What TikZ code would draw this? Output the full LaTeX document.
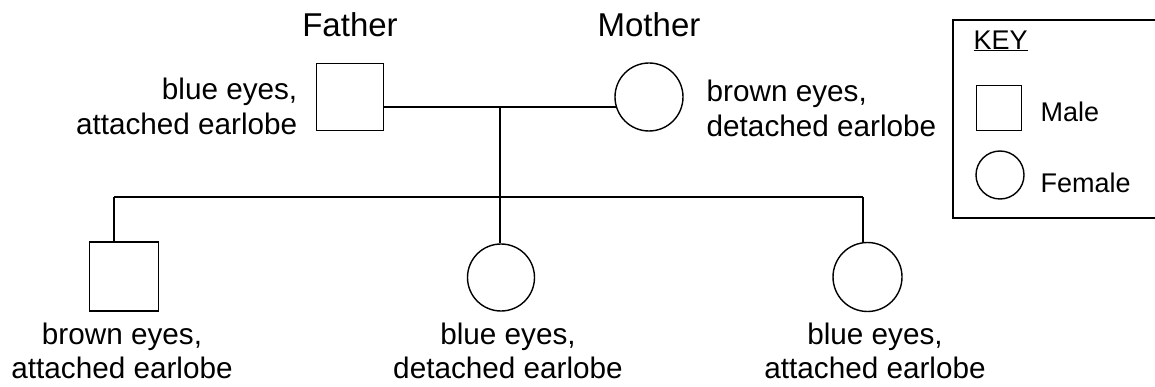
\documentclass[tikz,border=0pt]{standalone}
\usepackage{fontspec}
\setmainfont{Liberation Sans}
\begin{document}
\begin{tikzpicture}[x=1pt,y=-1pt,
  line width=1.4pt,
  male/.style={draw,rectangle,inner sep=0pt,minimum width=#1,minimum height=#1},
  female/.style={draw,circle,inner sep=0pt,minimum size=#1},
  lbl/.style={inner sep=0pt,font=\fontsize{29.7}{35}\selectfont},
  clbl/.style={inner sep=0pt,align=center,font=\fontsize{29.7}{34}\selectfont},
  role/.style={inner sep=0pt,font=\fontsize{33}{38}\selectfont},
  keytxt/.style={inner sep=0pt,anchor=west,font=\fontsize{27}{32}\selectfont}]
\useasboundingbox (0,0) rectangle (1155,387);
% parents
\node[male=67] (F) at (350,97) {};
\node[female=68] (M) at (649,97) {};
\node[role] (Ft) at (350,25) {Father};
\node[role] (Mt) at (649,25) {Mother};
\node[lbl,anchor=east,align=right] (Fl) at (298,106) {blue eyes,\\attached earlobe};
\node[lbl,anchor=west,align=left] (Ml) at (706,108) {brown eyes,\\detached earlobe};
% children
\node[male=69] (c1) at (124,276.5) {};
\node[female=67] (c2) at (501,277.5) {};
\node[female=69] (c3) at (867.5,277) {};
\node[clbl] (l1) at (122,351) {brown eyes,\\attached earlobe};
\node[clbl] (l2) at (508,351) {blue eyes,\\detached earlobe};
\node[clbl] (l3) at (875,351) {blue eyes,\\attached earlobe};
% connectors
\coordinate (m) at (500,107);
\coordinate (sl) at (114,197);
\coordinate (sr) at (863,197);
\draw (F.east |- M.197) -- (M.197);
\draw (m) -- (m |- sl);
\draw (sl) -- (sr);
\draw (sl) -- (sl |- c1.north);
\draw (m |- sl) -- (m |- c2.north);
\draw (sr) -- (sr |- c3.north);
% key
\coordinate (k1) at (1160,20);
\coordinate (k2) at (953,20);
\coordinate (k3) at (953,218);
\coordinate (k4) at (1160,218);
\draw (k1) -- (k2) -- (k3) -- (k4);
\node[keytxt] (kt) at (973,41) {\underline{KEY}};
\node[male=45] (ks) at (999,108) {};
\node[female=48] (kc) at (1000,175) {};
\node[keytxt] (km) at (1040,112) {Male};
\node[keytxt] (kf) at (1040,183) {Female};
\end{tikzpicture}
\end{document}
